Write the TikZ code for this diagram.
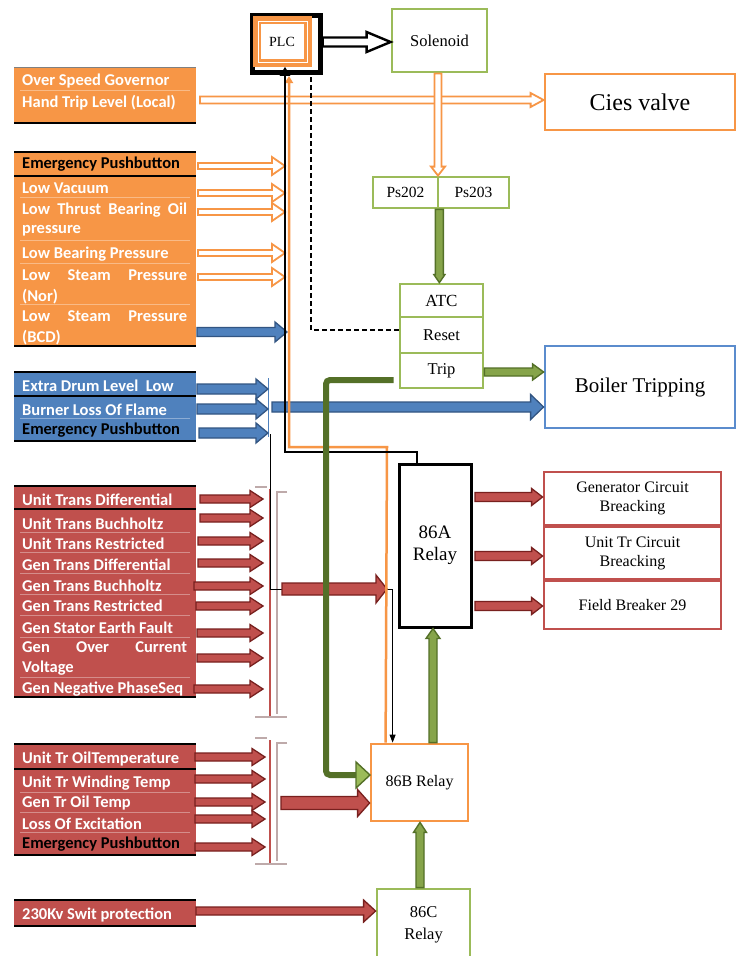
\documentclass[tikz,border=0pt]{standalone}
\usepackage{fontspec}
\setmainfont{Liberation Serif}
\newfontfamily\lab{Carlito}
\usetikzlibrary{arrows.meta,calc}

\definecolor{orangeF}{RGB}{247,150,70}
\definecolor{blueF}{RGB}{79,129,189}
\definecolor{blueD}{RGB}{50,85,130}
\definecolor{boxBlue}{RGB}{91,140,205}
\definecolor{redF}{RGB}{192,80,77}
\definecolor{redD}{RGB}{120,32,30}
\definecolor{greenL}{RGB}{155,187,89}
\definecolor{greenD}{RGB}{84,112,40}
\definecolor{capGray}{RGB}{190,170,170}

% block arrows: style, tail, tip, shaft half width, head half width, head length
\newcommand\harr[6]{%
  \draw[#1] let \p1=#2, \p2=#3 in
    (\x1,{\y1+#4}) -- ({\x2-#6},{\y1+#4}) -- ({\x2-#6},{\y1+#5}) -- (\x2,\y1)
    -- ({\x2-#6},{\y1-#5}) -- ({\x2-#6},{\y1-#4}) -- (\x1,{\y1-#4}) -- cycle;}
\newcommand\darr[6]{%
  \draw[#1] let \p1=#2, \p2=#3 in
    ({\x1-#4},\y1) -- ({\x1-#4},{\y2+#6}) -- ({\x1-#5},{\y2+#6}) -- (\x1,\y2)
    -- ({\x1+#5},{\y2+#6}) -- ({\x1+#4},{\y2+#6}) -- ({\x1+#4},\y1) -- cycle;}
\newcommand\uarr[6]{%
  \draw[#1] let \p1=#2, \p2=#3 in
    ({\x1-#4},\y1) -- ({\x1-#4},{\y2-#6}) -- ({\x1-#5},{\y2-#6}) -- (\x1,\y2)
    -- ({\x1+#5},{\y2-#6}) -- ({\x1+#4},{\y2-#6}) -- ({\x1+#4},\y1) -- cycle;}
\newcommand\just[1]{\hbox to 165pt{#1}}

\begin{document}
\begin{tikzpicture}[x=1pt,y=-1pt,
  lbl/.style={anchor=west, inner sep=0pt, text=white, yshift=-1.5pt,
    font=\lab\bfseries\fontsize{16.5}{18}\selectfont},
  dk/.style={lbl, text=black},
  blk/.style={inner sep=0pt, anchor=north west, minimum width=182pt},
  box/.style={draw, line width=2.8pt, inner sep=1pt, align=center,
    font=\fontsize{16.5}{19.5}\selectfont},
  rule/.style={line width=2.4pt, black},
  faint/.style={line width=0.7pt, white, opacity=0.35},
  hollowO/.style={draw=orangeF, fill=white, line width=1.8pt},
  hollowK/.style={draw=black, fill=white, line width=2.4pt},
  redA/.style={draw=redD, fill=redF, line width=1.3pt},
  blueA/.style={draw=blueD, fill=blueF, line width=1.3pt},
  greenA/.style={draw=greenD, fill=greenL!70!greenD, line width=1.4pt},
  capc/.style={capGray}]
\useasboundingbox (0,0) rectangle (737,956);
\clip (0,0) rectangle (737,956);
\fill[white] (0,0) rectangle (737,956);

% ---------- orange input blocks ----------
\node[blk, fill=orangeF, minimum height=56pt] (ob1) at (14,67) {};
\draw[gray, line width=1pt] (14,67) -- (196,67);
\draw[faint] (20,90) -- (190,90);
\draw[rule] (14,123) -- (196,123);
\node[lbl] (ob1a) at (22,80) {Over Speed Governor};
\node[lbl] (ob1b) at (22,101) {Hand Trip Level (Local)};

\node[blk, fill=orangeF, minimum height=196pt] (ob2) at (14,151) {};
\draw[rule] (14,152) -- (196,152);
\draw[rule] (14,176) -- (196,176);
\draw[rule] (14,346) -- (196,346);
\foreach \yy in {197,240,263,304} \draw[faint] (20,\yy) -- (190,\yy);
\node[dk]  (ob2a) at (22,163) {Emergency Pushbutton};
\node[lbl] (ob2b) at (22,187) {Low Vacuum};
\node[lbl] (ob2c) at (22,209) {\just{Low\hfill Thrust\hfill Bearing\hfill Oil}};
\node[lbl] (ob2d) at (22,229) {pressure};
\node[lbl] (ob2e) at (22,253) {Low Bearing Pressure};
\node[lbl] (ob2f) at (22,274) {\just{Low\hfill Steam\hfill Pressure}};
\node[lbl] (ob2g) at (22,295) {(Nor)};
\node[lbl] (ob2h) at (22,315) {\just{Low\hfill Steam\hfill Pressure}};
\node[lbl] (ob2i) at (22,336) {(BCD)};

% ---------- blue input block ----------
\node[blk, fill=blueF, minimum height=71pt] (bb) at (14,371) {};
\draw[rule] (14,372) -- (196,372);
\draw[black, line width=1.3pt] (14,396) -- (196,396);
\draw[faint] (20,418) -- (190,418);
\draw[rule] (14,441) -- (196,441);
\node[lbl] (bba) at (22,384) {Extra Drum Level\ \ Low};
\node[lbl] (bbb) at (22,408) {Burner Loss Of Flame};
\node[dk]  (bbc) at (22,429) {Emergency Pushbutton};

% ---------- red input blocks ----------
\node[blk, fill=redF, minimum height=213pt] (rb1) at (14,485) {};
\draw[rule] (14,486) -- (196,486);
\draw[rule] (14,509) -- (196,509);
\draw[rule] (14,697) -- (196,697);
\foreach \yy in {532,552,573,594,615,637,677} \draw[faint] (20,\yy) -- (190,\yy);
\node[lbl] (rb1a) at (22,498) {Unit Trans Differential};
\node[lbl] (rb1b) at (22,522) {Unit Trans Buchholtz};
\node[lbl] (rb1c) at (22,542) {Unit Trans Restricted};
\node[lbl] (rb1d) at (22,563) {Gen Trans Differential};
\node[lbl] (rb1e) at (22,584) {Gen Trans Buchholtz};
\node[lbl] (rb1f) at (22,604) {Gen Trans Restricted};
\node[lbl] (rb1g) at (22,626) {Gen Stator Earth Fault};
\node[lbl] (rb1h) at (22,646) {\just{Gen\hfill Over\hfill Current}};
\node[lbl] (rb1i) at (22,667) {Voltage};
\node[lbl] (rb1j) at (22,688) {Gen Negative PhaseSeq};

\node[blk, fill=redF, minimum height=112pt] (rb2) at (14,743) {};
\draw[rule] (14,744) -- (196,744);
\draw[rule] (14,769) -- (196,769);
\draw[rule] (14,855) -- (196,855);
\foreach \yy in {792,812,832} \draw[faint] (20,\yy) -- (190,\yy);
\node[lbl] (rb2a) at (22,757) {Unit Tr OilTemperature};
\node[lbl] (rb2b) at (22,782) {Unit Tr Winding Temp};
\node[lbl] (rb2c) at (22,801) {Gen Tr Oil Temp};
\node[lbl] (rb2d) at (22,822) {Loss Of Excitation};
\node[dk]  (rb2e) at (22,843) {Emergency Pushbutton};

\node[blk, fill=redF, minimum height=26pt] (rb3) at (14,900) {};
\draw[black, line width=1.5pt] (14,900) -- (196,900);
\draw[rule] (14,926) -- (196,926);
\node[lbl] (rb3a) at (22,913) {230Kv Swit protection};

% ---------- PLC ----------
\node[draw=black, line width=3.5pt, minimum width=69pt, minimum height=58pt, inner sep=0pt] (plc) at (286.5,44) {};
\draw[black, line width=1pt] (254,17) rectangle (318,70);
\draw[orangeF, line width=8pt] (257,20) rectangle (308,63);
\draw[white, line width=1pt] (258,21) rectangle (307,62);
\node[font=\fontsize{14}{16}\selectfont] (plctxt) at (282,42) {PLC};

% ---------- right-hand boxes ----------
\node[box, draw=greenL, minimum width=95pt, minimum height=63pt] (sol) at (439.5,40.5) {Solenoid};
\node[box, draw=orangeF, minimum width=190pt, minimum height=56pt, font=\fontsize{24}{28}\selectfont] (cies) at (640,102) {Cies valve};
\node[box, draw=greenL, minimum width=65pt, minimum height=31pt, font=\fontsize{15.5}{18}\selectfont] (ps202) at (405.5,192.5) {Ps202};
\node[box, draw=greenL, minimum width=71pt, minimum height=31pt, font=\fontsize{15.5}{18}\selectfont] (ps203) at (473.5,192.5) {Ps203};
\node[box, draw=greenL, minimum width=83pt, minimum height=33pt, font=\fontsize{17}{20}\selectfont] (atc) at (441.5,300.5) {ATC};
\node[box, draw=greenL, minimum width=83pt, minimum height=36pt] (reset) at (441.5,335) {Reset};
\node[box, draw=greenL, minimum width=83pt, minimum height=35pt] (trip) at (441.5,370.5) {Trip};
\node[box, draw=boxBlue, minimum width=190pt, minimum height=82pt, font=\fontsize{21}{25}\selectfont] (boiler) at (640,387) {Boiler Tripping};
\node[box, draw=black, line width=3pt, minimum width=72pt, minimum height=163pt, font=\fontsize{19}{22}\selectfont] (a86) at (435,545.5) {86A\\Relay};
\node[box, draw=redF, minimum width=177pt, minimum height=53pt, font=\fontsize{16}{19}\selectfont] (gcb) at (632.5,498.5) {Generator Circuit\\Breacking};
\node[box, draw=redF, minimum width=177pt, minimum height=52pt, font=\fontsize{16}{19}\selectfont] (utcb) at (632.5,553) {Unit Tr Circuit\\Breacking};
\node[box, draw=redF, minimum width=177pt, minimum height=48pt, font=\fontsize{16}{19}\selectfont] (fb) at (632.5,605) {Field Breaker 29};
\node[box, draw=orangeF, minimum width=97pt, minimum height=77pt, font=\fontsize{16}{19}\selectfont] (b86) at (419.5,782.5) {86B Relay};
\node[box, draw=greenL, minimum width=93pt, minimum height=71pt, font=\fontsize{16.5}{22}\selectfont] (c86) at (423.5,924.5) {86C\\Relay};

% ---------- collector bars ----------
\foreach \yt/\yb in {487/717, 738/864} {
  \draw[capc, line width=2pt] (255,\yt) -- (267,\yt);
  \draw[capc, line width=1.2pt] (287,\yt+5) -- (277,\yt+5) -- (277,\yb-3);
  \draw[redF, line width=1.5pt] (270,\yt+2) -- (270,\yb);
  \draw[capc, line width=2pt] (255,\yb) -- (287,\yb);
}
\draw[blueF, line width=0.9pt] (268,378) -- (268,437);

% thin black feed into 86B
\draw[line width=0.9pt, -{Triangle[length=8pt,width=6pt]}] (270,434) -- (270,589) -| ([xshift=23pt]b86.north west);

% ---------- input arrows ----------
\harr{blueA}{(272,407)}{(boiler.west)}{5pt}{12.5pt}{13pt}
\harr{hollowO}{(200,100)}{(cies.west)}{3.5pt}{7pt}{13pt}
\foreach \yy in {166,193,212,253,277}
  \harr{hollowO}{(198,\yy)}{(285,\yy)}{3pt}{9pt}{13pt};
\harr{blueA}{(197,332)}{(287,332)}{4.5pt}{10pt}{12pt}
\harr{blueA}{(197,389)}{(268,389)}{5pt}{10pt}{12pt}
\harr{blueA}{(197,409)}{(268,409)}{5pt}{10pt}{12pt}
\harr{blueA}{(199,433)}{(268,433)}{5pt}{10pt}{12pt}
\foreach \xs/\yy in {200/499,200/518,198/541,198/563,194/586,196/606,197/633,197/658,194/689}
  \harr{redA}{(\xs,\yy)}{(263,\yy)}{4pt}{8.5pt}{13pt};
\foreach \yy in {757,779,802,819,847}
  \harr{redA}{(195,\yy)}{(265,\yy)}{4pt}{8.5pt}{13pt};
\harr{redA}{(282,589)}{(387,589)}{6pt}{14pt}{11pt}
\harr{redA}{(281,803)}{(b86.west)}{6.5pt}{13.5pt}{12pt}
\harr{redA}{(196,911)}{(c86.west)}{4pt}{11pt}{12pt}
\harr{redA}{(475,497)}{(gcb.west)}{4.5pt}{8.5pt}{11pt}
\harr{redA}{(475,556)}{(utcb.west)}{4.5pt}{8.5pt}{11pt}
\harr{redA}{(475,606)}{(fb.west)}{4.5pt}{8.5pt}{11pt}

% ---------- trip lines back to the PLC ----------
\draw[orangeF, line width=2.5pt, -{Triangle[length=7pt,width=8pt]}]
  ([xshift=16pt]b86.north west) -- (387,447) -- (289,447) -- (289,76);
\draw[black, line width=2.8pt, -{Triangle[length=9pt,width=10pt]}]
  ([xshift=-18pt]a86.north) -- (417,452) -- (285,452) -- ([xshift=-1.5pt,yshift=8pt]plc.south);
\draw[line width=1.3pt, dash pattern=on 5pt off 3pt]
  ([yshift=5pt]reset.west) -| ([xshift=24.5pt]plc.south);

% trip output to 86B
\draw[greenD, line width=6pt, rounded corners=4pt]
  ([xshift=-5pt,yshift=-9.5pt]trip.west) -- (326,380) -- (326,775) -- (357,775);
\draw[draw=greenD, fill=greenL, line width=1.4pt] (356,762) -- (370,775) -- (356,788) -- cycle;

% ---------- solenoid, pressure switches and relay chain ----------
\harr{hollowK}{([yshift=2pt]plc.east)}{(sol.west)}{4.5pt}{10pt}{24pt}
\darr{hollowO}{([xshift=-1.5pt]sol.south)}{(ps202.north east)}{3.5pt}{7pt}{9pt}
\darr{greenA}{(ps202.south east)}{(atc.north)}{4pt}{5.5pt}{8pt}
\harr{greenA}{([yshift=-1.5pt]trip.east)}{(boiler.west)}{4pt}{8pt}{11pt}
\uarr{greenA}{([xshift=13.5pt]b86.north)}{(a86.south)}{4pt}{7pt}{10pt}
\uarr{greenA}{([xshift=-3.5pt]c86.north)}{(b86.south)}{4pt}{6.5pt}{10pt}
\end{tikzpicture}
\end{document}
